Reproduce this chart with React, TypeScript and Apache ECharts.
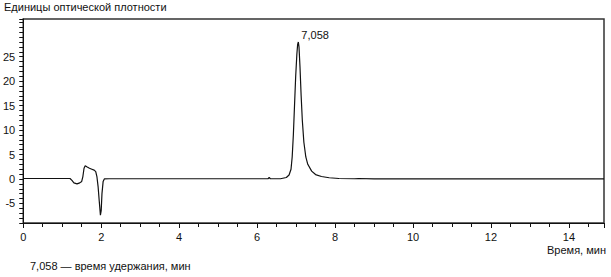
import React, { useEffect, useRef } from "react";
import * as echarts from "echarts";

// Retention time (min) and optical density units
const times: number[] = [
  0, 0.5, 1.0, 1.2, 1.25, 1.3, 1.38, 1.45, 1.5, 1.53, 1.56, 1.59, 1.63, 1.7, 1.76, 1.82,
  1.86, 1.89, 1.92, 1.95, 1.98, 2.0, 2.02, 2.05, 2.08, 2.2, 3.0, 4.0, 5.0, 6.0, 6.28,
  6.31, 6.34, 6.6, 6.75, 6.82, 6.87, 6.9, 6.93, 6.96, 6.99, 7.02, 7.04, 7.058, 7.075,
  7.1, 7.13, 7.16, 7.2, 7.25, 7.3, 7.4, 7.5, 7.65, 7.85, 8.1, 8.5, 8.6, 9.0, 10.0,
  11.0, 12.0, 13.0, 14.0, 14.9,
];
const density: number[] = [
  0.1, 0.1, 0.1, 0.1, -0.3, -0.8, -1.0, -0.8, -0.5, 0.5, 2.2, 2.7, 2.5, 2.2, 2.0, 1.8,
  1.5, 0.5, -1.5, -4.5, -7.4, -6.5, -3.0, -0.5, 0.0, 0.05, 0.05, 0.05, 0.05, 0.05, 0.05,
  0.3, 0.05, 0.05, 0.3, 0.8, 2.0, 4.5, 9.0, 15.0, 21.0, 25.5, 27.5, 28.0, 27.0,
  23.0, 17.0, 12.0, 7.5, 4.5, 3.0, 1.6, 0.9, 0.5, 0.25, 0.1, 0.05, 0.1, 0.0, 0.0,
  0.0, 0.0, 0.0, 0.0, 0.0,
];
const peakTime = 7.058;
const peakHeight = 28.0;
const peakLabel = "7,058";
const xLabels: number[] = [0, 2, 4, 6, 8, 10, 12, 14];
const yLabels: number[] = [-5, 0, 5, 10, 15, 20, 25];

const yTitle = "Единицы оптической плотности";
const xTitle = "Время, мин";
const footnote = "7,058 — время удержания, мин";

const FONT = "'Liberation Sans', Arial, sans-serif";

export default function App() {
  const ref = useRef<HTMLDivElement>(null);
  useEffect(() => {
    if (!ref.current) return;
    const chart = echarts.init(ref.current, null, { renderer: "svg" });
    const data = times.map((t, i) => [t, density[i]]);
    chart.setOption({
      animation: false,
      backgroundColor: "#ffffff",
      textStyle: { fontFamily: FONT },
      grid: {
        left: 22,
        top: 19,
        right: 7,
        bottom: 54,
        show: true,
        borderColor: "#333",
        borderWidth: 1.5,
        containLabel: false,
      },
      xAxis: {
        type: "value",
        min: 0,
        max: 14.9,
        interval: 2,
        axisLine: { show: true, onZero: false, lineStyle: { color: "#111", width: 1 } },
        axisTick: { show: true, length: 5, lineStyle: { color: "#111" } },
        minorTick: { show: true, splitNumber: 4, length: 4, lineStyle: { color: "#111" } },
        splitLine: { show: false },
        axisLabel: {
          color: "#111",
          fontSize: 11,
          fontFamily: FONT,
          margin: 8,
          formatter: (v: number) => (xLabels.includes(v) ? String(v) : ""),
        },
      },
      yAxis: {
        type: "value",
        min: -9,
        max: 32.7,
        interval: 1,
        axisLine: { show: true, onZero: false, lineStyle: { color: "#111", width: 1 } },
        axisTick: { show: true, length: 4, lineStyle: { color: "#111" } },
        splitLine: { show: false },
        axisLabel: {
          color: "#111",
          fontSize: 11,
          fontFamily: FONT,
          margin: 8,
          formatter: (v: number) => (yLabels.includes(v) ? String(v) : ""),
        },
      },
      series: [
        {
          type: "line",
          data,
          showSymbol: false,
          symbol: "none",
          lineStyle: { color: "#111", width: 1.2 },
          markPoint: {
            symbol: "circle",
            symbolSize: 0,
            data: [{ coord: [peakTime, peakHeight], value: peakLabel }],
            label: {
              show: true,
              position: "right",
              distance: 3,
              offset: [0, -7],
              color: "#111",
              fontSize: 11,
              fontFamily: FONT,
              formatter: peakLabel,
            },
          },
        },
      ],
      graphic: [
        {
          type: "text",
          left: 4,
          top: 1,
          style: { text: yTitle, fontSize: 11, fontFamily: FONT, fill: "#111" },
        },
        {
          type: "text",
          right: 5,
          top: 244,
          style: { text: xTitle, fontSize: 11, fontFamily: FONT, fill: "#111" },
        },
        {
          type: "text",
          left: 30,
          top: 260,
          style: { text: footnote, fontSize: 11, fontFamily: FONT, fill: "#111" },
        },
      ],
    });
    return () => chart.dispose();
  }, []);
  return <div ref={ref} style={{ width: 611, height: 277, position: "absolute", left: 0, top: 0 }} />;
}
